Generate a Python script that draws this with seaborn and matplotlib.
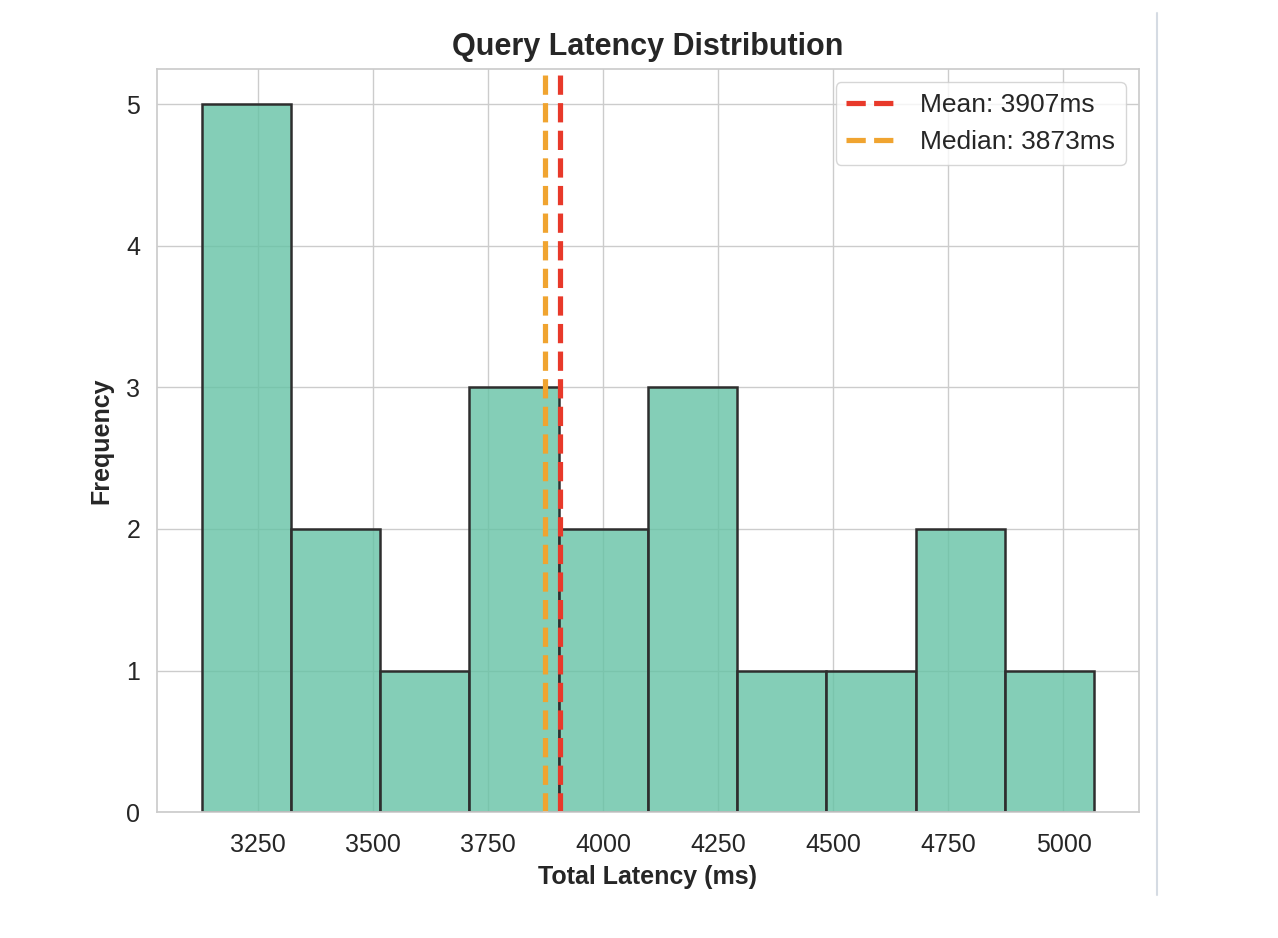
import numpy as np
import pandas as pd
import seaborn as sns
import matplotlib
matplotlib.use("Agg")
import matplotlib.pyplot as plt
from matplotlib.lines import Line2D

# total latency per query (ms)
latency_ms = [3128, 3160, 3190, 3230, 3290,
              3390, 3470,
              3620,
              3760, 3840, 3873,
              3950, 4040,
              4110, 4170, 4250,
              4380,
              4590,
              4720, 4820,
              5067]
x_ticks = [3250, 3500, 3750, 4000, 4250, 4500, 4750, 5000]
y_ticks = [0, 1, 2, 3, 4, 5]

sns.set_theme(style="whitegrid")
plt.rcParams["font.family"] = ["Liberation Sans", "DejaVu Sans"]

df = pd.DataFrame({"total_latency": latency_ms})
mean_v = np.mean(latency_ms)
median_v = np.median(latency_ms)

fig = plt.figure(figsize=(12.78, 9.38), dpi=100)
ax = fig.add_axes([0.1228, 0.1343, 0.7684, 0.7921])

sns.histplot(data=df, x="total_latency", bins=10, color="#66c2a5", alpha=0.8,
             edgecolor="#2e2e2e", linewidth=1.8, ax=ax)
ax.axvline(mean_v, color="#e8392a", linestyle="--", linewidth=3.75,
           label=f"Mean: {mean_v:.0f}ms")
ax.axvline(median_v, color="#f0a430", linestyle="--", linewidth=3.75,
           label=f"Median: {median_v:.0f}ms")

ax.set_xticks(x_ticks)
ax.set_yticks(y_ticks)
ax.tick_params(labelsize=18)
ax.tick_params(axis="x", pad=9)
ax.tick_params(axis="y", pad=6)
ax.set_title("Query Latency Distribution", fontsize=22, fontweight="bold", pad=10)
ax.set_xlabel("Total Latency (ms)", fontsize=18, fontweight="bold", labelpad=6)
ax.set_ylabel("Frequency", fontsize=18, fontweight="bold", labelpad=9)
ax.legend(loc="upper right", fontsize=19, handlelength=2.0)

fig.add_artist(Line2D([1157 / 1278, 1157 / 1278], [1 - 13 / 938, 1 - 895 / 938],
                      color="#d5dbe3", linewidth=1.5, transform=fig.transFigure))

fig.savefig("out.png", dpi=100)
